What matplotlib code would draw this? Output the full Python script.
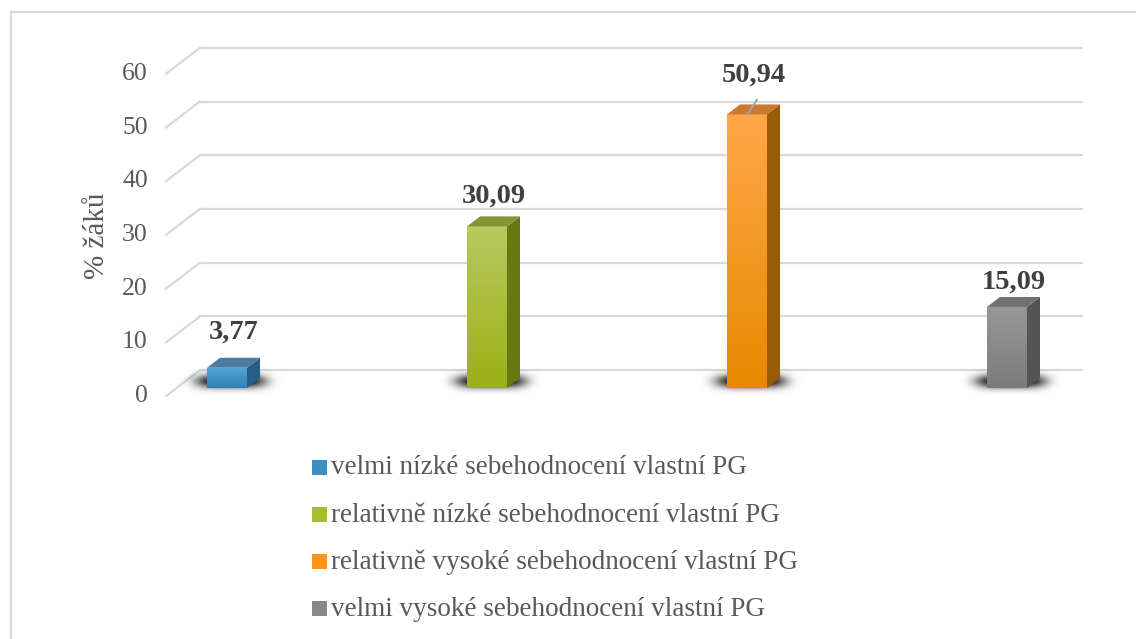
import numpy as np
import matplotlib
matplotlib.use("Agg")
import matplotlib.pyplot as plt
from matplotlib.patches import Polygon, Rectangle
from matplotlib.colors import LinearSegmentedColormap
from matplotlib.lines import Line2D

plt.rcParams['font.family'] = ['Liberation Serif', 'DejaVu Serif']

# data
categories = ['velmi nízké sebehodnocení vlastní PG',
              'relativně nízké sebehodnocení vlastní PG',
              'relativně vysoké sebehodnocení vlastní PG',
              'velmi vysoké sebehodnocení vlastní PG']
values = [3.77, 30.09, 50.94, 15.09]
value_labels = ['3,77', '30,09', '50,94', '15,09']
yticks = [0, 10, 20, 30, 40, 50, 60]
ylabel = '% žáků'

# colours: front top, front bottom, side, top face, legend swatch
front_top = ['#52a6d6', '#b8c95e', '#ffa748', '#979797']
front_bot = ['#2f7fb3', '#9cb016', '#e98900', '#7c7c7c']
side_col = ['#255f88', '#667a12', '#9a5a06', '#555555']
top_col = ['#4a7ca2', '#849438', '#c77a30', '#707070']
swatch = ['#3a8fc2', '#a8bd2a', '#fb9418', '#888888']
label_dy = [6.6, 5.7, 7.4, 4.7]

W, H = 1136, 639
fig = plt.figure(figsize=(W / 100, H / 100), dpi=100)
ax = fig.add_axes([0, 0, 1, 1])
ax.axis('off')

# pixel layout -> data: x unit = category spacing, y unit = value
x0px, xstep = 227.0, 260.0
y0px, ystep = 388.0, 5.37
xlim = (-x0px / xstep, (W - x0px) / xstep)
ylim = ((y0px - H) / ystep, y0px / ystep)

grey_txt = '#595959'
grid_c = '#d9d9d9'

half = 20 / xstep
ddx, ddy = 13 / xstep, 10 / ystep          # bar depth
wall_dy = 18 / ystep                       # back wall offset
wall_x0, wall_x1 = (200 - x0px) / xstep, (1082 - x0px) / xstep
front_x, front_dy = (166 - x0px) / xstep, -8 / ystep

# back wall gridlines + floor diagonals
for t in yticks:
    ax.plot([wall_x0, wall_x1], [t + wall_dy, t + wall_dy], color=grid_c, lw=1.6, zorder=1)
    ax.plot([front_x, wall_x0], [t + front_dy, t + wall_dy], color=grid_c, lw=1.6, zorder=1)
    ax.text(front_x - 0.07, t + front_dy, str(t), ha='right', va='center',
            fontsize=18.5, color=grey_txt)

ax.text(-0.5, 28.3, ylabel, rotation=90, ha='center', va='center',
        fontsize=21, color=grey_txt)

# shadows under bars (soft blob on the floor)
sx = np.linspace(-1, 1, 240)
sy = np.linspace(-1, 1, 80)
SX, SY = np.meshgrid(sx, sy)
alpha = np.exp(-(SX / 0.6) ** 4) * np.exp(-((SY + 0.1) / 0.5) ** 2)
shadow = np.zeros((80, 240, 4))
shadow[..., 3] = alpha

for i, v in enumerate(values):
    xl, xr = i - half, i + half
    ax.imshow(shadow, extent=[xl - 0.13, xr + ddx + 0.11, -1.4, 3.6],
              aspect='auto', zorder=2, interpolation='bilinear')

    # front face with vertical gradient
    cmap = LinearSegmentedColormap.from_list('g%d' % i, [front_bot[i], front_top[i]])
    grad = np.linspace(0, 1, 100).reshape(-1, 1)
    front = Rectangle((xl, 0), 2 * half, v, facecolor='none', edgecolor='none')
    ax.add_patch(front)
    im = ax.imshow(grad, cmap=cmap, extent=[xl, xr, 0, v], origin='lower',
                   aspect='auto', zorder=4)
    im.set_clip_path(front)

    ax.add_patch(Polygon([(xr, 0), (xr + ddx, ddy), (xr + ddx, v + ddy), (xr, v)],
                         closed=True, facecolor=side_col[i], edgecolor='none', zorder=4))
    ax.add_patch(Polygon([(xl, v), (xl + ddx, v + ddy), (xr + ddx, v + ddy), (xr, v)],
                         closed=True, facecolor=top_col[i], edgecolor='none', zorder=4))

    ax.text(i + ddx / 2, v + label_dy[i], value_labels[i], ha='center', va='center',
            fontsize=20.5, fontweight='bold', color='#404040', zorder=6)

# leader line for the tallest label
k = int(np.argmax(values))
ax.plot([k + 0.038, k + 0.003], [values[k] + 2.7, values[k] + 0.1],
        color='#a6a6a6', lw=1.5, zorder=5)

ax.set_aspect('auto')
ax.set_xlim(*xlim)
ax.set_ylim(*ylim)

# legend (figure pixels)
def fx(x):
    return x / W

def fy(y):
    return 1 - y / H

rows = [468, 515, 562, 609]
for i, name in enumerate(categories):
    fig.patches.append(Rectangle((fx(312), fy(rows[i] + 7)), 15 / W, 15 / H,
                                 transform=fig.transFigure, facecolor=swatch[i],
                                 edgecolor='none'))
    fig.text(fx(331), fy(rows[i]), name, ha='left', va='center',
             fontsize=19.5, color=grey_txt)

# chart border (top and left visible)
fig.lines.append(Line2D([fx(11), 1], [fy(12), fy(12)], transform=fig.transFigure,
                        color=grid_c, lw=1.6))
fig.lines.append(Line2D([fx(11), fx(11)], [fy(12), 0], transform=fig.transFigure,
                        color=grid_c, lw=1.6))

fig.savefig('out.png', dpi=100, facecolor='white')
